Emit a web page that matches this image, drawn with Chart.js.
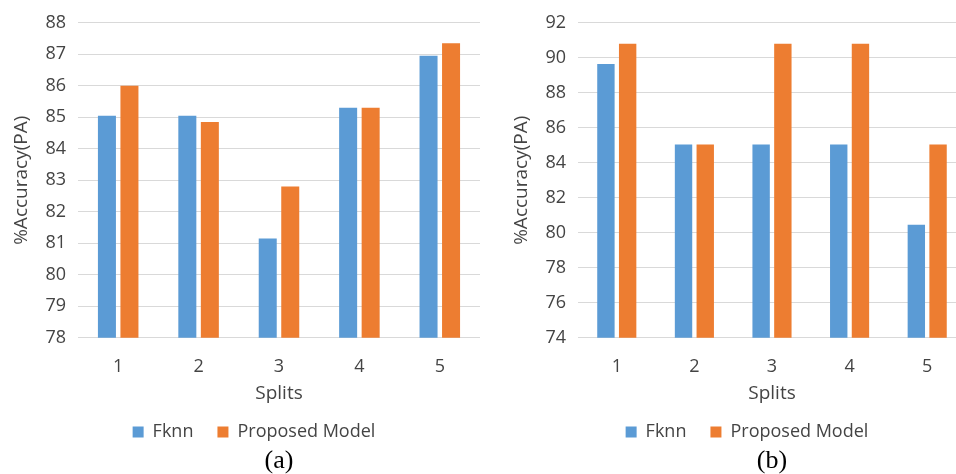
<!DOCTYPE html>
<html>
<head>
<meta charset="utf-8">
<script src="https://cdn.jsdelivr.net/npm/chart.js@4.4.1/dist/chart.umd.min.js"></script>
<style>
	html, body { margin: 0; padding: 0; background: #fff; overflow: hidden; width: 956px; height: 474px; }
	canvas { position: absolute; top: 0; }
	#chartA { left: 0; }
	#chartB { left: 500px; }
</style>
</head>
<body>
<canvas id="chartA" width="480" height="474"></canvas>
<canvas id="chartB" width="466" height="474"></canvas>
<script>
const splits = ['1', '2', '3', '4', '5'];

// (a)
const fknnA = [85.05, 85.05, 81.15, 85.3, 86.95];
const proposedA = [86.0, 84.85, 82.8, 85.3, 87.35];
const ticksA = { min: 78, max: 88, step: 1 };

// (b)
const fknnB = [89.65, 85.05, 85.05, 85.05, 80.45];
const proposedB = [90.8, 85.05, 90.8, 90.8, 85.05];
const ticksB = { min: 74, max: 92, step: 2 };

const textGray = '#444444';
const gridGray = '#d9d9d9';
const blue = '#5b9bd5';
const orange = '#ed7d31';

// legend sits a bit left of the plot centre, like the Excel original
const legendShift = {
	id: 'legendShift',
	afterLayout(chart) {
		chart.legend.left -= 25;
		chart.legend.right -= 25;
	}
};

function makeChart(id, fknn, proposed, yTicks, caption) {
	return new Chart(document.getElementById(id), {
		type: 'bar',
		data: {
			labels: splits,
			datasets: [
				{
					label: 'Fknn',
					data: fknn,
					backgroundColor: blue,
					categoryPercentage: 0.56,
					barPercentage: 0.8
				},
				{
					label: 'Proposed Model',
					data: proposed,
					backgroundColor: orange,
					categoryPercentage: 0.56,
					barPercentage: 0.8
				}
			]
		},
		options: {
			responsive: false,
			animation: false,
			devicePixelRatio: 1,
			layout: { padding: { top: 20.5, left: 0, right: 0, bottom: 0 } },
			scales: {
				x: {
					grid: { display: false, drawTicks: false },
					border: { display: false },
					ticks: {
						color: textGray,
						padding: 20,
						font: { family: 'Open Sans', size: 18, lineHeight: 1 }
					},
					title: {
						display: true,
						text: 'Splits',
						color: textGray,
						font: { family: 'Open Sans', size: 19, lineHeight: 1 },
						padding: { top: -11.2, bottom: -4.5 }
					}
				},
				y: {
					min: yTicks.min,
					max: yTicks.max,
					grid: { color: gridGray, lineWidth: 1, drawTicks: false },
					border: { display: false },
					ticks: {
						stepSize: yTicks.step,
						color: textGray,
						padding: 12,
						font: { family: 'Open Sans', size: 18 }
					},
					title: {
						display: true,
						text: '%Accuracy(PA)',
						color: textGray,
						font: { family: 'Open Sans', size: 19 },
						padding: { top: 10.6, bottom: 0 }
					}
				}
			},
			plugins: {
				legend: {
					position: 'bottom',
					fullSize: false,
					labels: {
						color: textGray,
						boxWidth: 11,
						boxHeight: 11,
						padding: 24,
						font: { family: 'Open Sans', size: 18 }
					}
				},
				subtitle: {
					display: true,
					position: 'bottom',
					fullSize: false,
					text: caption,
					color: '#000',
					font: { family: 'Liberation Serif', size: 26, lineHeight: 1, weight: 'normal' },
					padding: { top: -3, bottom: 0 }
				},
				tooltip: { enabled: false }
			}
		},
		plugins: [legendShift]
	});
}

makeChart('chartA', fknnA, proposedA, ticksA, '(a)');
makeChart('chartB', fknnB, proposedB, ticksB, '(b)');
</script>
</body>
</html>
